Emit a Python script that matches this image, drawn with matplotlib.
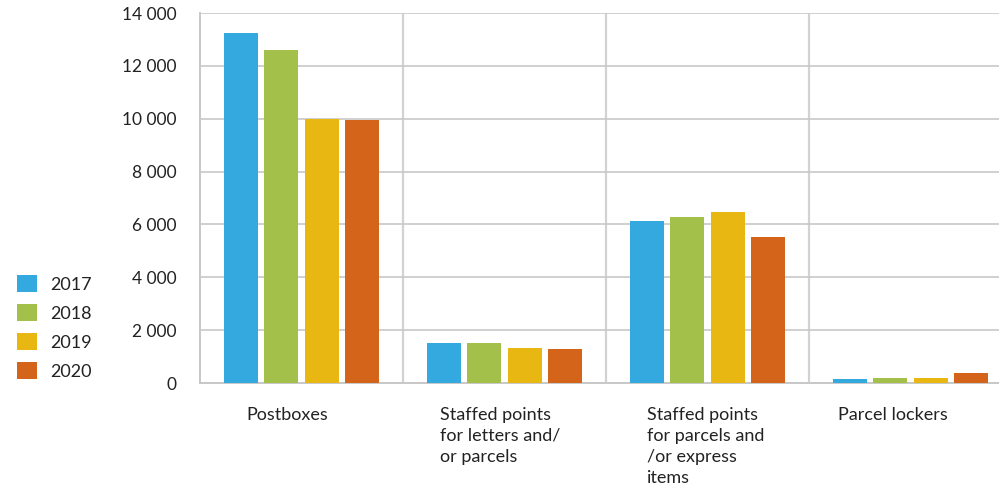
import numpy as np
import matplotlib
matplotlib.use("Agg")
import matplotlib.pyplot as plt
from matplotlib.ticker import FuncFormatter, MultipleLocator
from matplotlib.patches import Patch

plt.rcParams['font.family'] = ['Lato', 'DejaVu Sans']

# data
categories = ['Postboxes',
              'Staffed points\nfor letters and/\nor parcels',
              'Staffed points\nfor parcels and\n/or express\nitems',
              'Parcel lockers']
years = ['2017', '2018', '2019', '2020']
v2017 = [13250, 1510, 6130, 150]
v2018 = [12600, 1510, 6280, 190]
v2019 = [9990, 1320, 6470, 190]
v2020 = [9950, 1290, 5520, 380]

colors = ['#33a9df', '#a2c04a', '#e9b712', '#d3641a']
grid_col = '#c8c8c8'

fig = plt.figure(figsize=(9.99, 4.88), dpi=100)
ax = fig.add_axes([200 / 999, 105 / 488, 812 / 999, 370 / 488])

x = np.arange(len(categories))
series = [v2017, v2018, v2019, v2020]
offsets = [-0.3, -0.1, 0.1, 0.3]
for vals, off, col, yr in zip(series, offsets, colors, years):
    ax.bar(x + off, vals, width=0.168, color=col, label=yr, zorder=3)

ax.set_xlim(-0.5, 3.5)
ax.set_ylim(0, 14000)
ax.yaxis.set_major_locator(MultipleLocator(2000))
ax.yaxis.set_major_formatter(FuncFormatter(lambda v, p: f"{int(v):,}".replace(',', ' ')))
ax.tick_params(axis='y', length=0, pad=17, labelsize=12.5, labelcolor='#222222')
ax.set_xticks([])

ax.grid(axis='y', color=grid_col, linewidth=1.2, zorder=0)
for b in [0.5, 1.5, 2.5]:
    ax.axvline(b, color='#d2d2d2', linewidth=1.6, zorder=0)

for s in ['top', 'right']:
    ax.spines[s].set_visible(False)
ax.spines['left'].set_color(grid_col)
ax.spines['left'].set_linewidth(1.4)
ax.spines['bottom'].set_color(grid_col)
ax.spines['bottom'].set_linewidth(1.4)

# category labels under the plot, left aligned block
label_dx = [-0.273, -0.318, -0.298, -0.357]
trans = ax.get_xaxis_transform()
for i, (lab, dx) in enumerate(zip(categories, label_dx)):
    ax.text(i + dx, -0.065, lab, transform=trans, ha='left', va='top',
            fontsize=13, color='#222222', linespacing=1.38, clip_on=False)

handles = [Patch(facecolor=c, edgecolor='none', label=y) for c, y in zip(colors, years)]
fig.legend(handles=handles, loc='upper left', bbox_to_anchor=(17 / 999, 1 - 275 / 488),
           frameon=False, fontsize=13, handlelength=1.1, handleheight=1.1,
           handletextpad=0.75, labelspacing=0.62, borderpad=0, borderaxespad=0,
           labelcolor='#222222')

fig.savefig('out.png', dpi=100)
